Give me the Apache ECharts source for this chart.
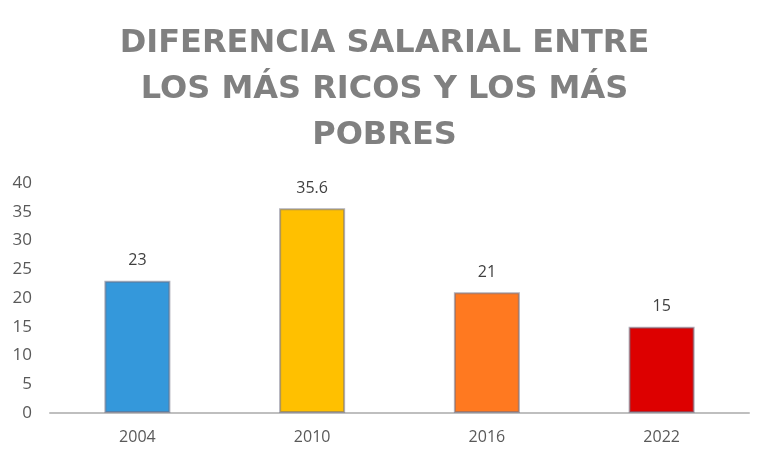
<!DOCTYPE html>
<html>
<head>
<meta charset="utf-8">
<script src="https://cdn.jsdelivr.net/npm/echarts@6/dist/echarts.min.js"></script>
<style>
  html, body { margin: 0; padding: 0; background: #fff; }
  #chart { width: 769px; height: 460px; }
</style>
</head>
<body>
<div id="chart"></div>
<script>
const years = ['2004', '2010', '2016', '2022'];
const values = [23, 35.6, 21, 15];
const barColors = ['#3498db', '#ffc000', '#ff7920', '#dd0000'];

const chart = echarts.init(document.getElementById('chart'));

chart.setOption({
  animation: false,
  title: {
    text: 'DIFERENCIA SALARIAL ENTRE\nLOS MÁS RICOS Y LOS MÁS\nPOBRES',
    left: 'center',
    top: 16,
    textStyle: {
      color: '#808080',
      fontFamily: 'DejaVu Sans',
      fontWeight: 'bold',
      fontSize: 32,
      lineHeight: 46,
    },
  },
  grid: { left: 50, right: 20, top: 183, bottom: 47 },
  xAxis: {
    type: 'category',
    data: years,
    axisLine: { lineStyle: { color: '#bfbfbf', width: 2 } },
    axisTick: { show: false },
    axisLabel: { color: '#595959', fontSize: 16, margin: 16, fontFamily: 'Open Sans' },
  },
  yAxis: {
    type: 'value',
    min: 0,
    max: 40,
    interval: 5,
    splitLine: { show: false },
    axisLabel: { color: '#595959', fontSize: 17, margin: 18, fontFamily: 'Open Sans' },
  },
  series: [{
    type: 'bar',
    barWidth: 66,
    data: values.map((v, i) => ({
      value: v,
      itemStyle: { color: barColors[i] },
    })),
    itemStyle: { borderColor: 'rgba(110,110,130,0.55)', borderWidth: 2 },
    label: {
      show: true,
      position: 'top',
      distance: 12,
      color: '#404040',
      fontSize: 16,
      fontFamily: 'Open Sans',
    },
  }],
});
</script>
</body>
</html>
